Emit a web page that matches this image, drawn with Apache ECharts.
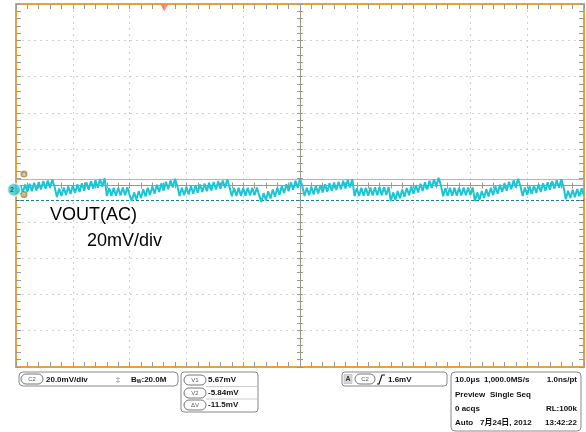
<!DOCTYPE html>
<html><head><meta charset="utf-8">
<script src="https://cdn.jsdelivr.net/npm/echarts@6/dist/echarts.min.js"></script>
<style>html,body{margin:0;padding:0;background:#fff}#c{width:586px;height:432px}</style>
</head><body><div id="c"></div>
<script>
// ---- data ----
const sampleStepUs = 0.4;           // time between samples (µs)
const timeSpanUs = [0, 100];        // 10 div x 10 µs/div
const voltSpanMv = [-97.7, 102.3];  // 10 div x 20 mV/div, ground slightly below centre
const voutMv = [
  1.0,-2.2,2.4,-1.7,2.9,-1.3,3.3,-0.8,3.8,-0.4,4.2,0.1,4.7,0.5,5.1,1.0,5.6,1.4,
  -4.1,0.6,-3.5,1.2,-2.9,1.8,-2.4,2.3,-1.8,2.9,-1.2,3.5,-0.6,4.1,0.0,4.7,0.6,5.2,1.1,5.8,1.7,6.4,
  -3.5,0.9,-3.4,1.0,-3.3,1.1,-3.2,1.2,-3.1,1.3,-3.0,
  -6.3,-1.5,-5.5,-0.7,-4.6,0.2,-3.8,1.0,-3.0,1.8,-2.2,2.7,-1.3,3.5,-0.5,4.3,0.3,5.1,1.2,6.0,2.0,
  -3.5,1.1,-3.0,1.6,-2.6,2.0,-2.2,2.5,-1.7,2.9,-1.3,3.4,-0.8,3.8,-0.4,4.2,0.1,4.7,0.5,5.1,1.0,5.6,1.4,
  -3.6,0.9,-3.5,1.0,-3.4,0.9,-3.3,1.1,-3.2,1.1,-3.1,1.2,-3.0,
  -6.8,-1.9,-5.8,-0.9,-4.8,0.1,-3.9,1.0,-2.9,2.0,-1.9,3.0,-0.9,4.0,0.0,4.9,1.0,5.9,2.0,
  -3.5,1.1,-3.0,1.6,-2.6,2.1,-2.1,2.5,-1.6,3.0,-1.2,3.5,-0.7,3.9,-0.2,4.4,0.2,4.9,0.7,5.3,1.2,5.8,
  -3.6,0.9,-3.5,1.0,-3.4,1.1,-3.3,1.2,-3.2,1.3,-3.1,1.4,-3.0,1.5,-2.9,1.5,
  -6.3,-1.5,-5.5,-0.7,-4.7,0.1,-3.9,0.9,-3.1,1.7,-2.3,2.5,-1.5,3.3,-0.7,4.1,0.1,4.9,0.9,5.7,1.7,6.5,2.5,
  -3.6,0.9,-3.5,1.0,-3.4,1.0,-3.3,1.1,-3.2,1.2,-3.1,1.2,-3.0,1.3,
  -6.3,-1.5,-5.5,-0.7,-4.6,0.2,-3.8,1.0,-3.0,1.8,-2.2,2.7,-1.3,3.5,-0.5,4.3,0.3,5.1,1.2,6.0,2.0,
  -3.5,1.2,-2.9,1.8,-2.4,2.3,-1.8,2.9,-1.2,3.5,-0.6,4.1,0.0,4.7,0.6,5.2,1.1,5.8,
  1.4,-5.2,-0.6,-4.6,-0.1,-4.1,0.4,-3.6,0.8,-3.0
];
const cursorV1Mv = 5.67;
const cursorV2Mv = -5.84;
const triggerTimeUs = [26.1];
const groundRef = [[0, 0]];
const cursorMarks = [[1.4, 8.6, 'a'], [1.4, -2.6, 'b']];
const divTicks = [-5, 5];

// ---- chart ----
const FONT = '"Liberation Sans", Arial, "Noto Sans CJK SC", sans-serif';
const ORANGE = '#f0a030';
const tickCol = '#999999';
const gridCol = '#d0d0d0';
const centreCol = '#9a9a88';

function baseAxis(min, max, interval, extra) {
  return Object.assign({
    type: 'value', min: min, max: max, interval: interval,
    axisLabel: {show: false}, splitLine: {show: false},
    axisLine: {show: false, onZero: false},
    axisTick: {show: true, inside: true, length: 5, lineStyle: {color: tickCol, width: 1}},
    minorTick: {show: true, splitNumber: 5, length: 5, lineStyle: {color: tickCol, width: 1}}
  }, extra);
}
const xAx = extra => baseAxis(timeSpanUs[0], timeSpanUs[1], 10, extra);
const yAx = extra => baseAxis(divTicks[0], divTicks[1], 1, extra);
const borderLine = {show: true, onZero: false, lineStyle: {color: ORANGE, width: 2}};
const centreLine = {show: true, onZero: false, lineStyle: {color: centreCol, width: 1}};
const noLine = {show: false, onZero: false};
const gridSplit = {show: true, showMinLine: false, showMaxLine: false, lineStyle: {color: gridCol, type: [2, 4], width: 1}};
const cTick = inside => ({show: true, inside: inside, length: 3, lineStyle: {color: centreCol}});
const cMinor = {show: true, splitNumber: 5, length: 3, lineStyle: {color: centreCol}};

const chart = echarts.init(document.getElementById('c'), null, {renderer: 'canvas'});

function oval(x, y, w, label) {
  return [
    {type: 'rect', shape: {x: x, y: y, width: w, height: 10, r: 5}, style: {fill: '#fff', stroke: '#777', lineWidth: 1}},
    {type: 'text', x: x + w / 2, y: y + 5, style: {text: label, font: '6px ' + FONT, fill: '#555', align: 'center', verticalAlign: 'middle'}}
  ];
}
function txt(x, y, s, align) {
  return {type: 'text', x: x, y: y, style: {text: s, font: 'bold 8px ' + FONT, fill: '#111', align: align || 'left', verticalAlign: 'middle'}};
}

const graphics = [
  {type: 'text', x: 50, y: 215, z: 20, style: {text: 'VOUT(AC)', font: '18px ' + FONT, fill: '#000', verticalAlign: 'middle'}},
  {type: 'text', x: 87, y: 241, z: 20, style: {text: '20mV/div', font: '18px ' + FONT, fill: '#000', verticalAlign: 'middle'}},
  // box 1
  {type: 'rect', shape: {x: 19, y: 372, width: 159, height: 14, r: 4}, style: {fill: '#fff', stroke: '#888', lineWidth: 1}},
  ...oval(21, 374, 22, 'C2'),
  txt(46, 379.5, '20.0mV/div'),
  {type: 'text', x: 118, y: 380, style: {text: '‡', font: '8px ' + FONT, fill: '#777', align: 'center', verticalAlign: 'middle'}},
  {type: 'text', x: 131, y: 379.5, style: {text: '{b|B}{s|W}{b|:20.0M}', verticalAlign: 'middle',
    rich: {b: {font: 'bold 8px ' + FONT, fill: '#111'}, s: {font: 'bold 5px ' + FONT, fill: '#111', padding: [5, 0, 0, 0]}}}},
  // box 2
  {type: 'rect', shape: {x: 181, y: 372, width: 77, height: 40, r: 3}, style: {fill: '#fff', stroke: '#888', lineWidth: 1}},
  {type: 'line', shape: {x1: 206, y1: 386.5, x2: 257, y2: 386.5}, style: {stroke: '#ccc', lineWidth: 1}},
  {type: 'line', shape: {x1: 206, y1: 399, x2: 257, y2: 399}, style: {stroke: '#ccc', lineWidth: 1}},
  ...oval(184, 375, 22, 'V1'),
  ...oval(184, 388, 22, 'V2'),
  ...oval(184, 400, 22, 'ΔV'),
  txt(208, 380, '5.67mV'),
  txt(208, 393, '-5.84mV'),
  txt(208, 405, '-11.5mV'),
  // box 3
  {type: 'rect', shape: {x: 342, y: 372, width: 105, height: 14, r: 3}, style: {fill: '#fff', stroke: '#888', lineWidth: 1}},
  {type: 'rect', shape: {x: 344, y: 374.5, width: 8, height: 9}, style: {fill: '#d8d8d8', stroke: '#aaa', lineWidth: 0.5}},
  {type: 'text', x: 348, y: 379.5, style: {text: 'A', font: 'bold 7px ' + FONT, fill: '#333', align: 'center', verticalAlign: 'middle'}},
  ...oval(355, 374, 20, 'C2'),
  {type: 'polyline', shape: {points: [[377, 384], [379, 384], [382, 375], [385, 375]]}, style: {stroke: '#111', lineWidth: 1.2, fill: null}},
  txt(388, 379.5, '1.6mV'),
  // box 4
  {type: 'rect', shape: {x: 451, y: 372, width: 130, height: 59, r: 4}, style: {fill: '#fff', stroke: '#888', lineWidth: 1}},
  txt(455, 380, '10.0μs'),
  txt(484, 380, '1,000.0MS/s'),
  txt(577, 380, '1.0ns/pt', 'right'),
  txt(455, 394.5, 'Preview'),
  txt(490, 394.5, 'Single Seq'),
  txt(455, 409, '0 acqs'),
  txt(577, 409, 'RL:100k', 'right'),
  txt(455, 423, 'Auto'),
  txt(480, 423, '7月24日, 2012'),
  txt(577, 423, '13:42:22', 'right')
];

chart.setOption({
  animation: false,
  backgroundColor: '#fff',
  grid: {left: 16, top: 4, right: 2, bottom: 65, show: false},
  xAxis: [
    xAx({position: 'bottom', axisLine: borderLine, splitLine: gridSplit}),
    xAx({position: 'top', axisLine: borderLine}),
    xAx({position: 'bottom', offset: -181.5, axisLine: centreLine, axisTick: cTick(true), minorTick: cMinor}),
    xAx({position: 'bottom', offset: -181.5, axisLine: noLine, axisTick: cTick(false), minorTick: cMinor})
  ],
  yAxis: [
    yAx({position: 'left', axisLine: borderLine, splitLine: gridSplit}),
    yAx({position: 'right', axisLine: borderLine}),
    yAx({position: 'left', offset: -284, axisLine: centreLine, axisTick: cTick(true), minorTick: cMinor}),
    yAx({position: 'left', offset: -284, axisLine: noLine, axisTick: cTick(false), minorTick: cMinor}),
    {type: 'value', min: voltSpanMv[0], max: voltSpanMv[1], show: false, splitLine: {show: false}, axisLine: {onZero: false}}
  ],
  graphic: graphics,
  series: [
    {
      type: 'line', xAxisIndex: 0, yAxisIndex: 4, z: 5,
      data: voutMv.map((v, i) => [i * sampleStepUs, v]),
      showSymbol: false, symbol: 'none',
      lineStyle: {color: '#19c6d6', width: 2},
      markLine: {
        silent: true, symbol: 'none', label: {show: false}, animation: false,
        data: [
          {yAxis: cursorV1Mv, lineStyle: {color: '#5cd8e0', type: 'solid', width: 1}},
          {yAxis: cursorV2Mv, lineStyle: {color: '#1f7f8a', type: [3, 2], width: 1.2}}
        ]
      }
    },
    {
      type: 'scatter', xAxisIndex: 0, yAxisIndex: 0, z: 6,
      data: triggerTimeUs.map(t => [t, divTicks[1]]),
      symbol: 'triangle', symbolRotate: 180, symbolSize: [8, 7], symbolOffset: [0, 4],
      itemStyle: {color: '#f07a68'}, silent: true
    },
    {
      type: 'scatter', xAxisIndex: 0, yAxisIndex: 4, z: 10, clip: false,
      data: groundRef, symbol: 'circle', symbolSize: 13, symbolOffset: [-2, 0],
      itemStyle: {color: '#3cc6d0', borderColor: '#e8fafa', borderWidth: 1.5},
      label: {show: true, position: 'inside', formatter: '2', color: '#0a4a50', fontSize: 7, fontWeight: 'bold', offset: [-2, 0]},
      silent: true
    },
    {
      type: 'scatter', xAxisIndex: 0, yAxisIndex: 4, z: 10, clip: false,
      data: cursorMarks.map(m => [m[0], m[1], m[2]]), symbol: 'circle', symbolSize: 7,
      itemStyle: {color: '#9c8a3c'},
      label: {show: true, position: 'inside', formatter: p => p.data[2], color: '#fff', fontSize: 6},
      silent: true
    }
  ]
});
</script>
</body></html>
